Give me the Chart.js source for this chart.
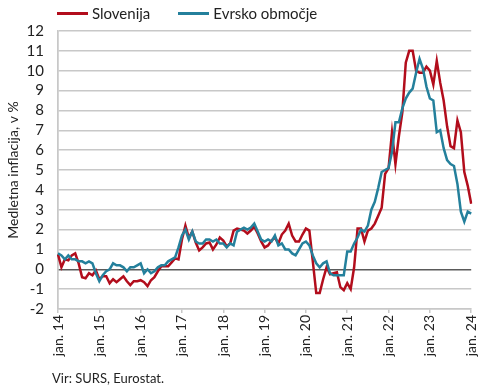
<!DOCTYPE html>
<html>
<head>
<meta charset="utf-8">
<script src="https://cdn.jsdelivr.net/npm/chart.js@4.4.1/dist/chart.umd.min.js"></script>
<style>
  body { margin: 0; background: #fff; }
  #wrap { position: relative; width: 490px; height: 390px; font-family: Lato, sans-serif; color: #222; }
  #legend { position: absolute; top: 4px; left: 57px; font-size: 15px; display: flex; }
  .item { display: flex; align-items: center; margin-right: 28px; }
  .swatch { width: 31px; height: 3px; margin-right: 4px; }
  #source { position: absolute; left: 52px; top: 370px; font-size: 13px; }
</style>
</head>
<body>
<div id="wrap">
  <canvas id="myChart" width="490" height="390"></canvas>
  <div id="legend"></div>
  <div id="source">Vir: SURS, Eurostat.</div>
</div>
<script>
// Monthly data, jan. 2014 - jan. 2024
const startYear = 2014;
const endYear = 2024;
const tickLabels = ['jan. 14', 'jan. 15', 'jan. 16', 'jan. 17', 'jan. 18', 'jan. 19',
  'jan. 20', 'jan. 21', 'jan. 22', 'jan. 23', 'jan. 24'];

const seriesNames = ['Slovenija', 'Evrsko območje'];
const seriesColors = ['#b20d1c', '#24809c'];

const slovenija = [
  0.75, 0.1, 0.5, 0.45, 0.7, 0.8, 0.3, -0.4, -0.45, -0.2, -0.3, -0.05,
  -0.5, -0.35, -0.35, -0.7, -0.5, -0.65, -0.5, -0.35, -0.6, -0.8, -0.6, -0.6,
  -0.55, -0.65, -0.85, -0.55, -0.4, -0.1, 0.15, 0.15, 0.15, 0.35, 0.55, 0.5,
  1.5, 2.2, 1.6, 1.9, 1.35, 0.95, 1.1, 1.3, 1.35, 1.0, 1.25, 1.6,
  1.45, 1.15, 1.3, 1.95, 2.05, 2.0, 1.95, 1.8, 1.95, 2.15, 1.8, 1.4,
  1.1, 1.2, 1.45, 1.6, 1.3, 1.75, 1.95, 2.3, 1.7, 1.4, 1.4, 1.75,
  2.05, 1.95, 0.4, -1.2, -1.2, -0.5, 0.1, -0.25, -0.2, -0.15, -0.9, -1.05,
  -0.7, -1.0, 0.1, 2.05, 2.05, 1.4, 1.95, 2.05, 2.3, 2.7, 3.1, 4.8,
  5.1, 6.9, 5.3, 6.7, 7.9, 10.4, 11.0, 11.0, 10.0, 9.9, 9.9, 10.2,
  10.0, 9.3, 10.5, 9.4, 8.5, 7.2, 6.2, 6.1, 7.5, 6.9, 4.9, 4.2,
  3.3
];

const evrskoObmocje = [
  0.8, 0.7, 0.5, 0.7, 0.5, 0.5, 0.4, 0.4, 0.3, 0.4, 0.3, -0.2,
  -0.6, -0.3, -0.1, 0.0, 0.3, 0.2, 0.2, 0.1, -0.1, 0.1, 0.1, 0.2,
  0.3, -0.2, 0.0, -0.2, -0.1, 0.1, 0.2, 0.2, 0.4, 0.5, 0.6, 1.1,
  1.7, 2.0, 1.5, 1.9, 1.4, 1.3, 1.3, 1.5, 1.5, 1.4, 1.5, 1.3,
  1.3, 1.1, 1.3, 1.2, 1.9, 2.0, 2.1, 2.0, 2.1, 2.3, 1.9, 1.5,
  1.4, 1.5, 1.4, 1.7, 1.2, 1.3, 1.0, 1.0, 0.8, 0.7, 1.0, 1.3,
  1.4, 1.2, 0.7, 0.3, 0.1, 0.3, 0.4, -0.2, -0.3, -0.3, -0.3, -0.3,
  0.9, 0.9, 1.3, 1.6, 2.0, 1.9, 2.2, 3.0, 3.4, 4.1, 4.9, 5.0,
  5.1, 5.9, 7.4, 7.4, 8.1, 8.6, 8.9, 9.1, 9.9, 10.6, 10.1, 9.2,
  8.6, 8.5, 6.9, 7.0, 6.1, 5.5, 5.3, 5.2, 4.3, 2.9, 2.4, 2.9,
  2.8
];

// one category per month
const months = [];
for (let y = startYear; y <= endYear; y++) {
  for (let m = 1; m <= 12; m++) {
    if (y === endYear && m > 1) break;
    months.push(y + '-' + String(m).padStart(2, '0'));
  }
}

// HTML legend
const legendEl = document.getElementById('legend');
seriesNames.forEach((name, i) => {
  const item = document.createElement('div');
  item.className = 'item';
  item.innerHTML = `<span class="swatch" style="background:${seriesColors[i]}"></span><span>${name}</span>`;
  legendEl.appendChild(item);
});

const gridGray = '#c8c8c8';
const textColor = '#222';

const ctx = document.getElementById('myChart').getContext('2d');
new Chart(ctx, {
  type: 'line',
  data: {
    labels: months,
    datasets: [slovenija, evrskoObmocje].map((values, i) => ({
      label: seriesNames[i],
      data: values,
      borderColor: seriesColors[i],
      backgroundColor: seriesColors[i],
      borderWidth: 2.5,
      pointRadius: 0,
      tension: 0,
      order: i === 0 ? 1 : 0
    }))
  },
  options: {
    responsive: false,
    devicePixelRatio: 1,
    animation: false,
    layout: { padding: { top: 31, right: 11, bottom: 25, left: 0 } },
    plugins: {
      legend: { display: false },
      tooltip: { enabled: false }
    },
    scales: {
      x: {
        offset: false,
        afterFit: scale => { scale.height = 56; },
        border: { color: gridGray, width: 1.5 },
        grid: {
          drawOnChartArea: true,
          color: c => (c.index === 0 || c.index === months.length - 1) ? gridGray : 'rgba(0,0,0,0)',
          tickColor: gridGray,
          tickLength: 4,
          lineWidth: 1.5
        },
        ticks: {
          autoSkip: false,
          maxRotation: 90,
          minRotation: 90,
          padding: 2,
          color: textColor,
          font: { family: 'Lato', size: 14 },
          callback: (val, idx) => idx % 12 === 0 ? tickLabels[idx / 12] : null
        }
      },
      y: {
        min: -2,
        max: 12,
        afterFit: scale => { scale.width = 58; },
        border: { display: true, color: gridGray, width: 1.5 },
        grid: {
          drawTicks: false,
          color: c => c.tick.value === 0 ? '#5a5a5a' : gridGray,
          lineWidth: 1.5
        },
        ticks: {
          stepSize: 1,
          autoSkip: false,
          padding: 14,
          color: textColor,
          font: { family: 'Lato', size: 15 }
        },
        title: {
          display: true,
          text: 'Medletna inflacija, v %',
          color: textColor,
          font: { family: 'Lato', size: 14 },
          padding: { top: 5, bottom: 0 }
        }
      }
    }
  }
});
</script>
</body>
</html>
